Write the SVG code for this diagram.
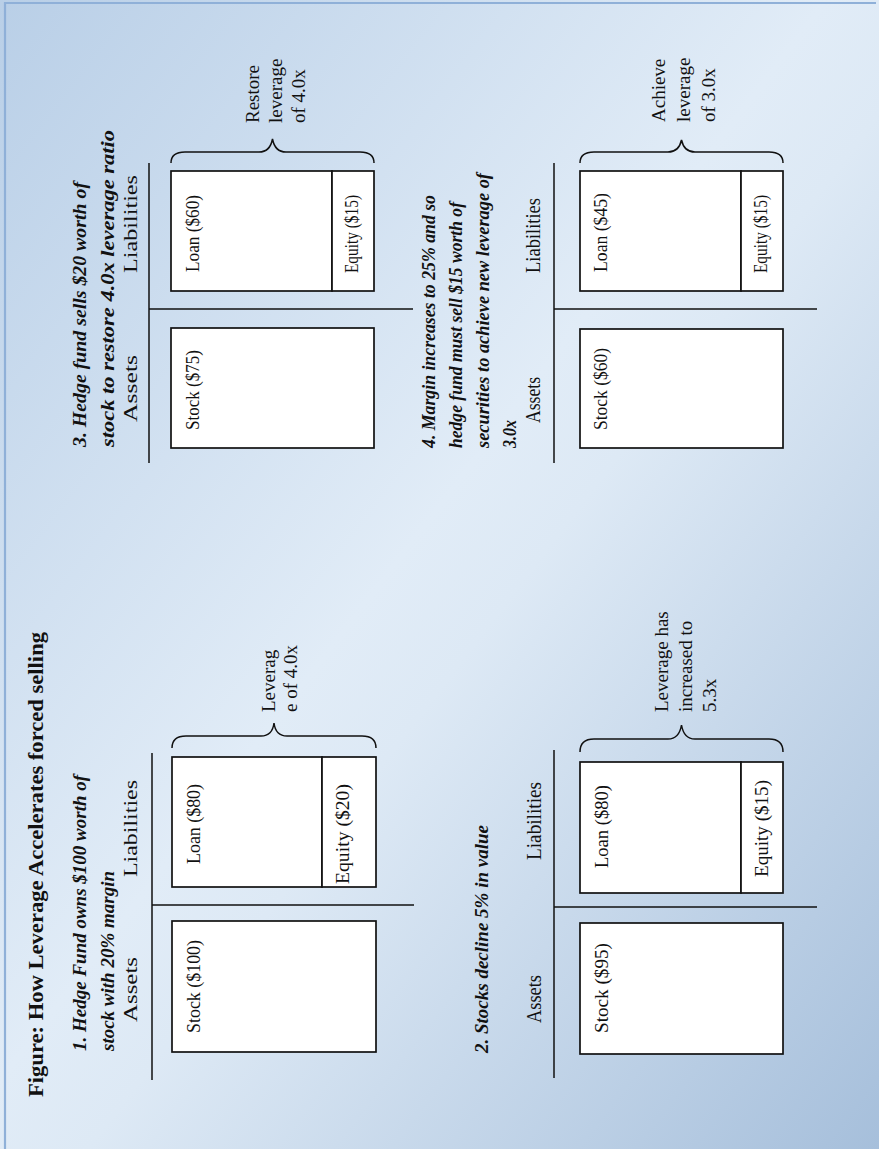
<svg xmlns="http://www.w3.org/2000/svg" width="879" height="1149" viewBox="0 0 879 1149">
  <defs>
    <linearGradient id="bg" x1="0" y1="0" x2="1" y2="1">
      <stop offset="0" stop-color="#b9cfe7"/>
      <stop offset="0.47" stop-color="#e1ecf7"/>
      <stop offset="0.55" stop-color="#dde9f5"/>
      <stop offset="1" stop-color="#a6bfdb"/>
    </linearGradient>
    <style>
      text { font-family: 'Liberation Serif', 'Times New Roman', serif; fill: #111; }
      .title { font-size: 22px; font-weight: bold; }
      .cap { font-size: 19px; font-weight: bold; font-style: italic; }
      .side { font-size: 19.5px; }
      .side-r { font-size: 20.5px; }
      .val { font-size: 19.5px; }
      .val-s { font-size: 18px; }
      .note { font-size: 19px; }
      .box { fill: #fff; stroke: #111; stroke-width: 1.7; }
      .rule { stroke: #111; stroke-width: 1.5; fill: none; }
      .brace { stroke: #111; stroke-width: 1.5; fill: none; }
    </style>
  </defs>

  <!-- slide background and frame -->
  <rect x="0" y="0" width="879" height="1149" fill="url(#bg)"/>
  <path d="M5,1149 V3 H876" fill="none" stroke="#8fb0d8" stroke-width="2.2"/>

  <!-- heading (the whole sheet is laid out sideways, reading bottom to top) -->
  <g id="title">
    <text class="title" transform="translate(43,1097) rotate(-90)" textLength="465" lengthAdjust="spacingAndGlyphs">Figure: How Leverage Accelerates forced selling</text>
  </g>

  <!-- axes of each balance sheet and the braces over the liabilities -->
  <g id="connectors">
    <!-- panel 1 -->
    <line class="rule" x1="152" y1="753" x2="152" y2="1080"/>
    <line class="rule" x1="152" y1="905" x2="414" y2="905"/>
    <path class="brace" d="M172,748 C172,740 176,736 186,736 L261,736 C269,736 273,731 274,723 C275,731 279,736 287,736 L362,736 C372,736 376,740 376,748"/>
    <!-- panel 2 -->
    <line class="rule" x1="554" y1="750" x2="554" y2="1078"/>
    <line class="rule" x1="554" y1="907" x2="817" y2="907"/>
    <path class="brace" d="M580,752 C580,744 584,739 594,739 L668,739 C676,739 680,734 681.5,725 C683,734 687,739 695,739 L769,739 C779,739 783,744 783,752"/>
    <!-- panel 3 -->
    <line class="rule" x1="149" y1="163" x2="149" y2="463"/>
    <line class="rule" x1="149" y1="309" x2="413" y2="309"/>
    <path class="brace" d="M171,163 C171,156 175,152 185,152 L259,152 C267,152 271,147 272.5,139 C274,147 278,152 286,152 L360,152 C370,152 374,156 374,163"/>
    <!-- panel 4 -->
    <line class="rule" x1="554" y1="163" x2="554" y2="463"/>
    <line class="rule" x1="554" y1="309" x2="817" y2="309"/>
    <path class="brace" d="M580,163 C580,156 584,152 594,152 L668,152 C676,152 680,147 681.5,140 C683,147 687,152 695,152 L769,152 C779,152 783,156 783,163"/>
  </g>

  <!-- panel 1 -->
  <g id="p1-caption">
    <text class="cap" transform="translate(86,1051) rotate(-90)"><tspan x="0" y="0">1. Hedge Fund owns $100 worth of</tspan><tspan x="0" y="28">stock with 20% margin</tspan></text>
  </g>
  <g id="p1-assets-head"><text class="side" transform="translate(137,1022) rotate(-90)" textLength="65" lengthAdjust="spacingAndGlyphs">Assets</text></g>
  <g id="p1-liabilities-head"><text class="side" transform="translate(137,877) rotate(-90)" textLength="97" lengthAdjust="spacingAndGlyphs">Liabilities</text></g>
  <g id="p1-stock">
    <rect class="box" x="172" y="921" width="204" height="131"/>
    <text class="val" transform="translate(200,1033) rotate(-90)" textLength="93" lengthAdjust="spacingAndGlyphs">Stock ($100)</text>
  </g>
  <g id="p1-loan">
    <rect class="box" x="172" y="757" width="150" height="130"/>
    <text class="val" transform="translate(200,864) rotate(-90)" textLength="80" lengthAdjust="spacingAndGlyphs">Loan ($80)</text>
  </g>
  <g id="p1-equity">
    <rect class="box" x="322" y="757" width="54" height="130"/>
    <text class="val" transform="translate(349,884) rotate(-90)" textLength="100" lengthAdjust="spacingAndGlyphs">Equity ($20)</text>
  </g>
  <g id="p1-leverage">
    <text class="note" transform="translate(275,712) rotate(-90)"><tspan x="0" y="0">Leverag</tspan><tspan x="0" y="22">e of 4.0x</tspan></text>
  </g>

  <!-- panel 2 -->
  <g id="p2-caption">
    <text class="cap" transform="translate(488,1053) rotate(-90)">2. Stocks decline 5% in value</text>
  </g>
  <g id="p2-assets-head"><text class="side-r" transform="translate(541,1023) rotate(-90)" textLength="48" lengthAdjust="spacingAndGlyphs">Assets</text></g>
  <g id="p2-liabilities-head"><text class="side-r" transform="translate(541,860) rotate(-90)" textLength="78" lengthAdjust="spacingAndGlyphs">Liabilities</text></g>
  <g id="p2-stock">
    <rect class="box" x="580" y="923" width="203" height="131"/>
    <text class="val" transform="translate(608,1033) rotate(-90)" textLength="90" lengthAdjust="spacingAndGlyphs">Stock ($95)</text>
  </g>
  <g id="p2-loan">
    <rect class="box" x="580" y="762" width="161" height="131"/>
    <text class="val" transform="translate(608,868) rotate(-90)" textLength="83" lengthAdjust="spacingAndGlyphs">Loan ($80)</text>
  </g>
  <g id="p2-equity">
    <rect class="box" x="741" y="762" width="42" height="131"/>
    <text class="val" transform="translate(768,877) rotate(-90)" textLength="97" lengthAdjust="spacingAndGlyphs">Equity ($15)</text>
  </g>
  <g id="p2-leverage">
    <text class="note" transform="translate(668,712) rotate(-90)"><tspan x="0" y="0">Leverage has</tspan><tspan x="0" y="24">increased to</tspan><tspan x="0" y="48">5.3x</tspan></text>
  </g>

  <!-- panel 3 -->
  <g id="p3-caption">
    <text class="cap" transform="translate(86,447) rotate(-90)"><tspan x="0" y="0" textLength="265" lengthAdjust="spacingAndGlyphs">3. Hedge fund sells $20 worth of</tspan><tspan x="0" y="28" textLength="317" lengthAdjust="spacingAndGlyphs">stock to restore 4.0x leverage ratio</tspan></text>
  </g>
  <g id="p3-assets-head"><text class="side" transform="translate(137,422) rotate(-90)" textLength="67" lengthAdjust="spacingAndGlyphs">Assets</text></g>
  <g id="p3-liabilities-head"><text class="side" transform="translate(137,273) rotate(-90)" textLength="98" lengthAdjust="spacingAndGlyphs">Liabilities</text></g>
  <g id="p3-stock">
    <rect class="box" x="171" y="328" width="203" height="120"/>
    <text class="val-s" transform="translate(199,430) rotate(-90)" textLength="80" lengthAdjust="spacingAndGlyphs">Stock ($75)</text>
  </g>
  <g id="p3-loan">
    <rect class="box" x="171" y="171" width="161" height="120"/>
    <text class="val-s" transform="translate(199,272) rotate(-90)" textLength="77" lengthAdjust="spacingAndGlyphs">Loan ($60)</text>
  </g>
  <g id="p3-equity">
    <rect class="box" x="332" y="171" width="42" height="120"/>
    <text class="val-s" transform="translate(358,273) rotate(-90)" textLength="78" lengthAdjust="spacingAndGlyphs">Equity ($15)</text>
  </g>
  <g id="p3-leverage">
    <text class="note" transform="translate(259,123) rotate(-90)"><tspan x="0" y="0">Restore</tspan><tspan x="0" y="23">leverage</tspan><tspan x="0" y="46">of 4.0x</tspan></text>
  </g>

  <!-- panel 4 -->
  <g id="p4-caption">
    <text class="cap" transform="translate(435,448) rotate(-90)" style="font-size:18.5px"><tspan x="0" y="0" textLength="253" lengthAdjust="spacingAndGlyphs">4. Margin increases to 25% and so</tspan><tspan x="0" y="27" textLength="246" lengthAdjust="spacingAndGlyphs">hedge fund must sell $15 worth of</tspan><tspan x="0" y="54" textLength="275" lengthAdjust="spacingAndGlyphs">securities to achieve new leverage of</tspan><tspan x="0" y="81" textLength="28" lengthAdjust="spacingAndGlyphs">3.0x</tspan></text>
  </g>
  <g id="p4-assets-head"><text class="side-r" transform="translate(540,423) rotate(-90)" textLength="46" lengthAdjust="spacingAndGlyphs">Assets</text></g>
  <g id="p4-liabilities-head"><text class="side-r" transform="translate(540,273) rotate(-90)" textLength="75" lengthAdjust="spacingAndGlyphs">Liabilities</text></g>
  <g id="p4-stock">
    <rect class="box" x="580" y="329" width="203" height="119"/>
    <text class="val-s" transform="translate(607,430) rotate(-90)" textLength="82" lengthAdjust="spacingAndGlyphs">Stock ($60)</text>
  </g>
  <g id="p4-loan">
    <rect class="box" x="580" y="171" width="161" height="120"/>
    <text class="val-s" transform="translate(607,272) rotate(-90)" textLength="79" lengthAdjust="spacingAndGlyphs">Loan ($45)</text>
  </g>
  <g id="p4-equity">
    <rect class="box" x="741" y="171" width="42" height="120"/>
    <text class="val-s" transform="translate(767,273) rotate(-90)" textLength="78" lengthAdjust="spacingAndGlyphs">Equity ($15)</text>
  </g>
  <g id="p4-leverage">
    <text class="note" transform="translate(665,122) rotate(-90)"><tspan x="0" y="0">Achieve</tspan><tspan x="0" y="25">leverage</tspan><tspan x="0" y="50">of 3.0x</tspan></text>
  </g>
</svg>
